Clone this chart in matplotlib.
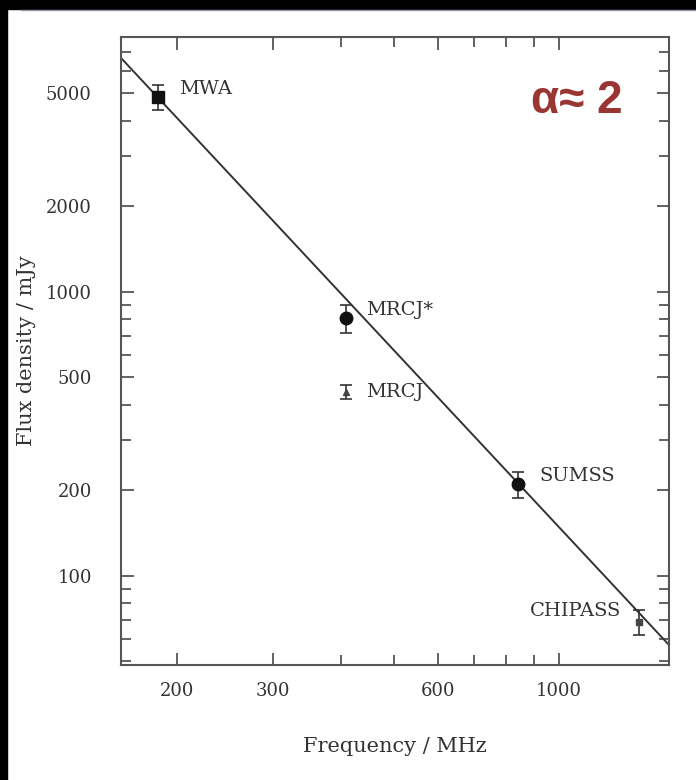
import numpy as np
import matplotlib
matplotlib.use("Agg")
import matplotlib.pyplot as plt
from matplotlib.patches import Rectangle
from matplotlib.lines import Line2D
from matplotlib.ticker import FixedLocator, NullFormatter

# Integrated flux densities of the source from the surveys
surveys = ["MWA", "MRCJ*", "MRCJ", "SUMSS", "CHIPASS"]
freq_mhz = [185, 408, 408, 843, 1400]
flux_mjy = [4850, 808, 443, 210, 69]
flux_err = [480, 90, 25, 22, 7]
markers = ["s", "o", "^", "o", "s"]
marker_sizes = [9, 9, 4, 9, 4]

# Power-law fit S = S_1000 * (nu / 1000 MHz)^-alpha
alpha = 2.06
s_1000 = 148.6

x_ticklabels = [200, 300, 600, 1000]
y_ticklabels = [100, 200, 500, 1000, 2000, 5000]

# label offsets (pixels) and alignment
label_offsets = [(21, 8, "left"), (20, 8, "left"), (20, 0, "left"),
                 (21, 8, "left"), (-18, 11, "right")]

fig = plt.figure(figsize=(6.96, 7.8), dpi=100)
ax = fig.add_axes([121 / 696, 115 / 780, 548 / 696, 628 / 780])

ax.set_xscale("log")
ax.set_yscale("log")
ax.set_xlim(158, 1590)
ax.set_ylim(48.6, 7880)

# fitted power law across the plotted range
x0, x1 = ax.get_xlim()
fit_x = np.array([x0, x1])
fit_y = s_1000 * (fit_x / 1000.0) ** (-alpha)
ax.plot(fit_x, fit_y, color="#333333", lw=1.4, zorder=2)

for name, f, s, e, m, ms, (dx, dy, ha) in zip(surveys, freq_mhz, flux_mjy, flux_err,
                                            markers, marker_sizes, label_offsets):
    col = "#111111" if ms > 5 else "#444444"
    ax.errorbar(f, s, yerr=e, fmt=m, ms=ms, color=col, ecolor="#333333",
                elinewidth=1.2, capsize=4, capthick=1.2, zorder=3)
    ax.annotate(name, (f, s), xytext=(dx, dy), textcoords="offset pixels",
                ha=ha, va="center", fontsize=14, family="DejaVu Serif",
                color="#333333")

# ticks on all four sides, pointing inward
minor_x = [m * 100 for m in range(2, 10)] + [1000] + [m * 1000 for m in range(2, 3)]
minor_y = [m * 10 ** k for k in (1, 2, 3) for m in range(1, 10)]
ax.xaxis.set_major_locator(FixedLocator(x_ticklabels))
ax.xaxis.set_minor_locator(FixedLocator([v for v in minor_x if v not in x_ticklabels]))
ax.yaxis.set_major_locator(FixedLocator(y_ticklabels))
ax.yaxis.set_minor_locator(FixedLocator([v for v in minor_y if v not in y_ticklabels]))
ax.xaxis.set_minor_formatter(NullFormatter())
ax.yaxis.set_minor_formatter(NullFormatter())
ax.set_xticklabels([str(v) for v in x_ticklabels])
ax.set_yticklabels([str(v) for v in y_ticklabels])

ax.tick_params(which="both", direction="in", top=True, right=True,
               color="#555555", width=1.3, labelsize=13, labelcolor="#333333")
ax.tick_params(which="major", length=9)
ax.tick_params(which="minor", length=7)
ax.tick_params(axis="x", pad=12)
ax.tick_params(axis="y", pad=21)
for lab in ax.get_xticklabels() + ax.get_yticklabels():
    lab.set_family("DejaVu Serif")

for sp in ax.spines.values():
    sp.set_color("#555555")
    sp.set_linewidth(1.5)

ax.set_xlabel("Frequency / MHz", fontsize=15, family="DejaVu Serif",
              color="#333333")
ax.set_ylabel("Flux density / mJy", fontsize=15, family="DejaVu Serif",
              color="#333333")
ax.xaxis.set_label_coords(0.5, -0.115)
ax.yaxis.set_label_coords(-0.155, 0.5)

fig.text(531 / 696, 1 - 113 / 780, "α≈ 2", fontsize=33, fontweight="bold",
         family=["Liberation Sans", "DejaVu Sans"], color="#993634",
         ha="left", va="baseline")

# dark frame along the top and left edges
fig.patches.append(Rectangle((0, 1 - 9 / 780), 1, 9 / 780, transform=fig.transFigure,
                             color="black", zorder=10))
fig.patches.append(Rectangle((0, 0), 7 / 696, 1, transform=fig.transFigure,
                             color="black", zorder=10))
fig.lines.append(Line2D([21 / 696, 1], [1 - 9.5 / 780, 1 - 9.5 / 780],
                        transform=fig.transFigure, color="#9c96aa", lw=1, zorder=11))

fig.savefig("out.png", dpi=100)
